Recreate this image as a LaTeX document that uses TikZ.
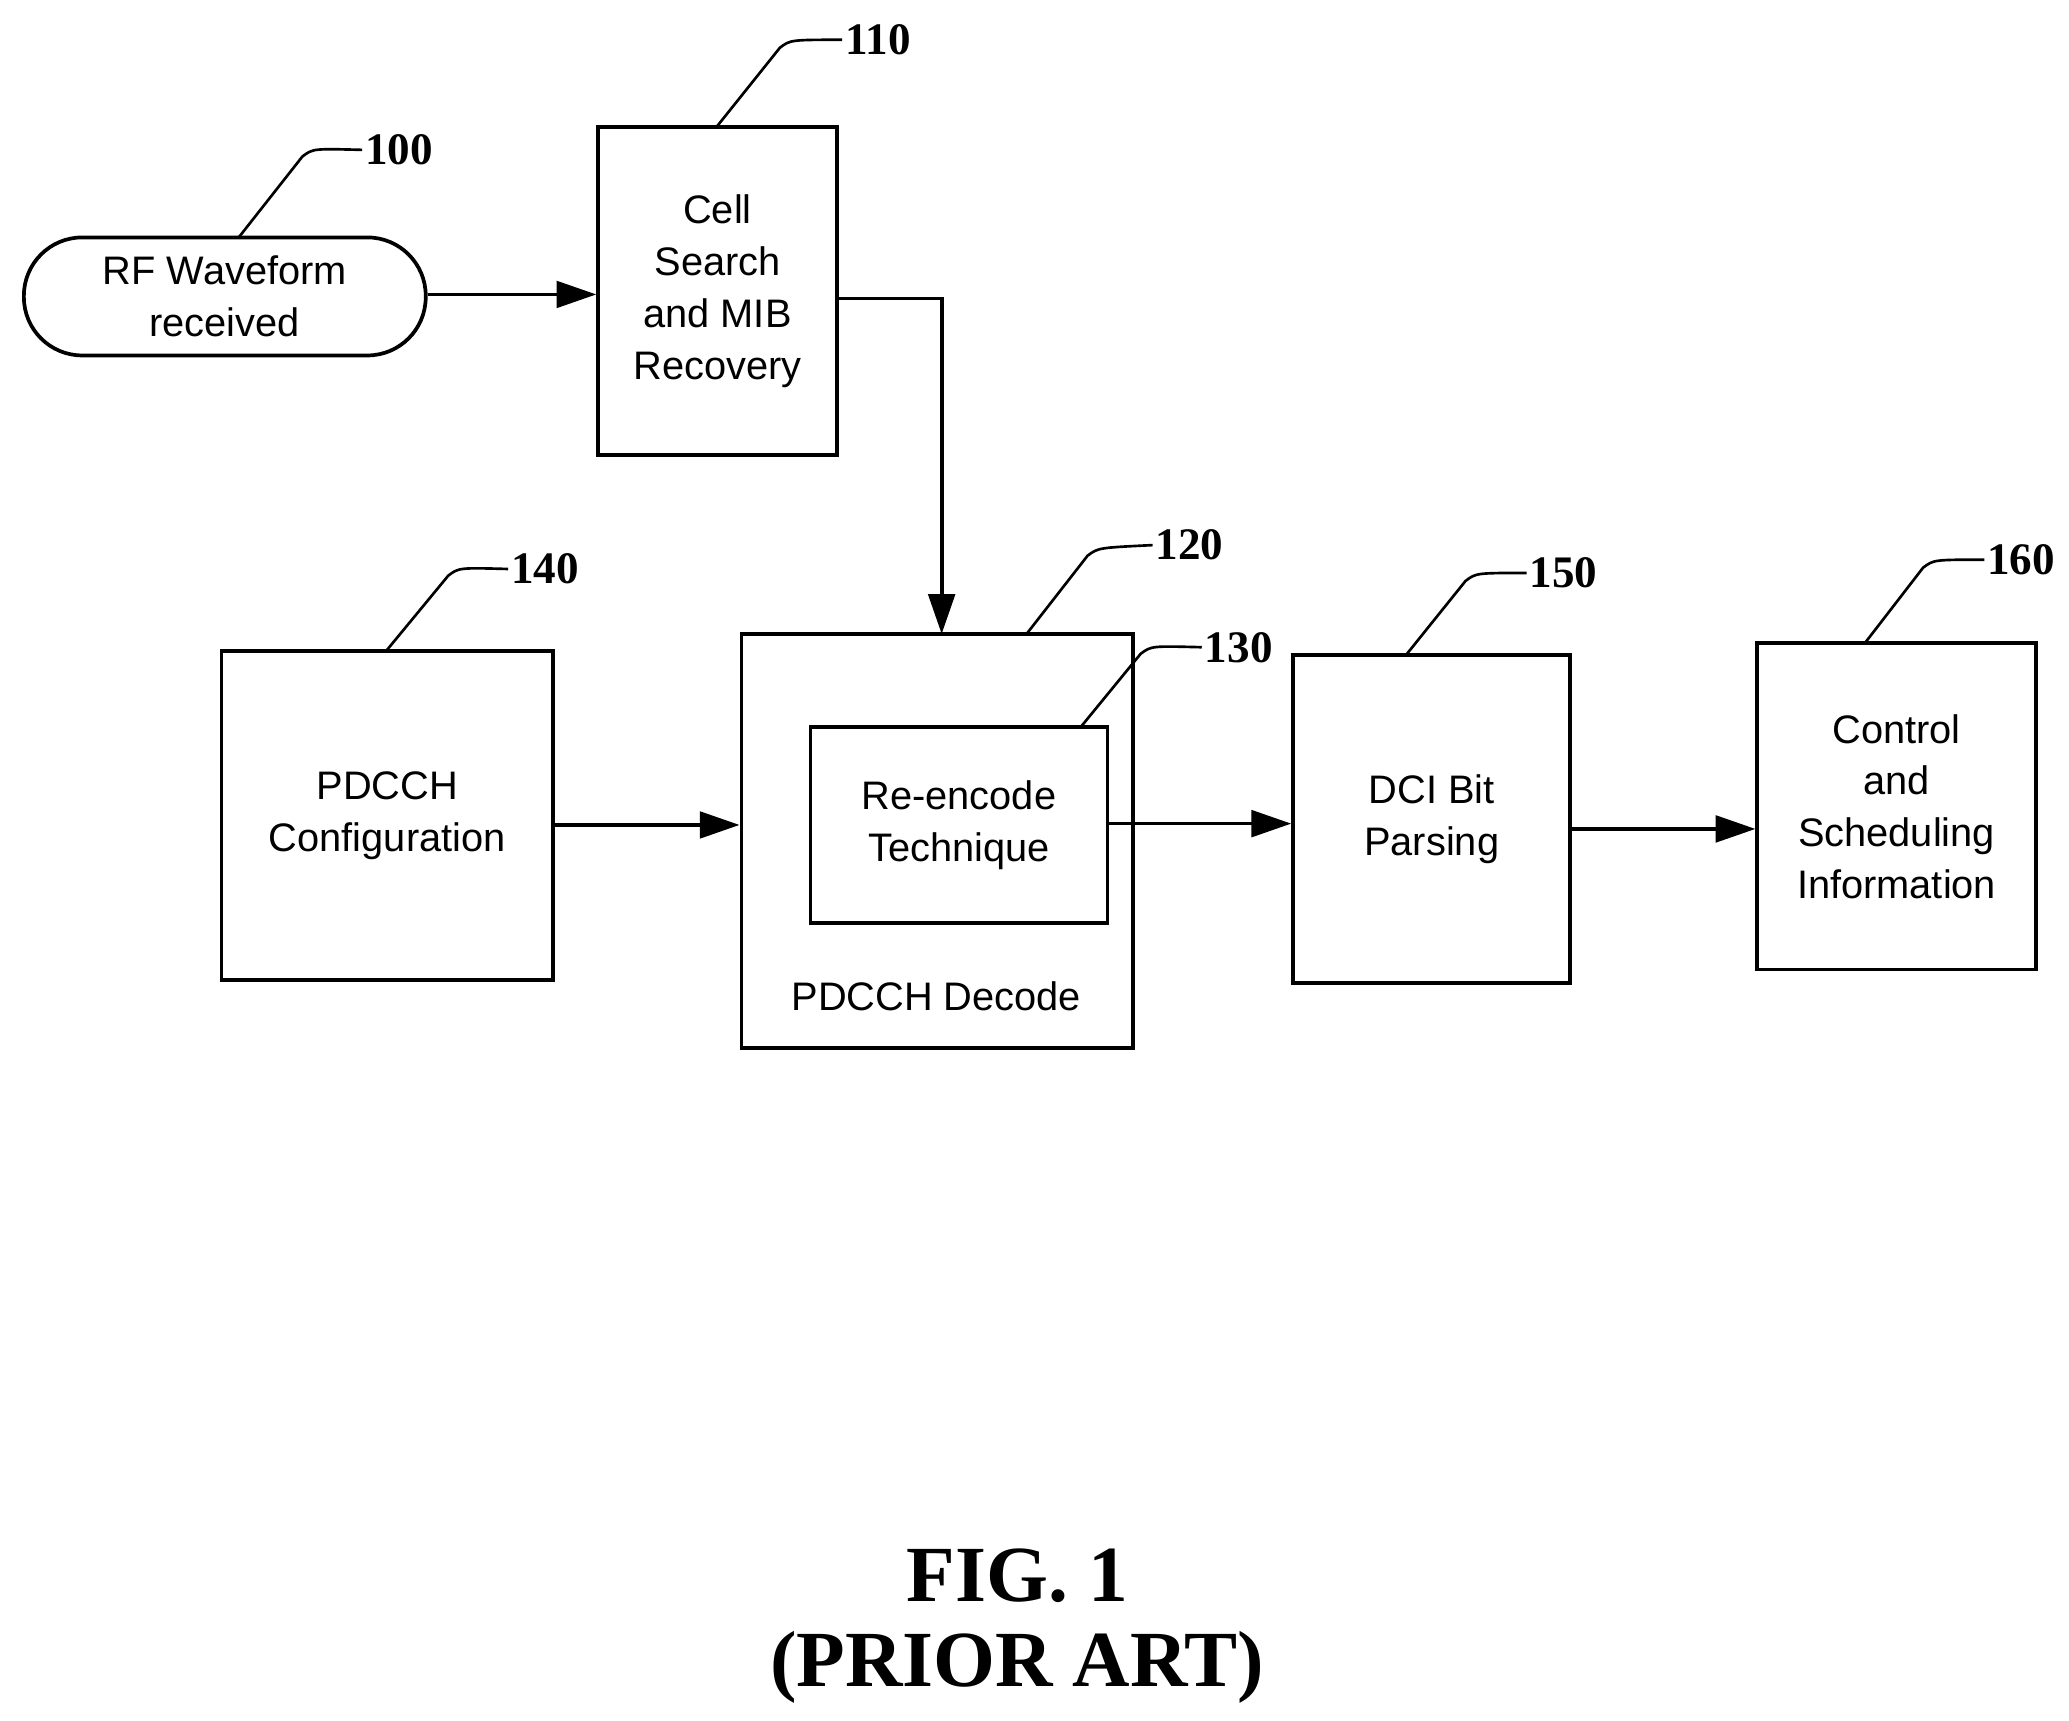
\documentclass[tikz,border=0pt]{standalone}
\usepackage{fontspec}
\setmainfont{Liberation Sans}
\newfontfamily\serifb{Liberation Serif}
\usetikzlibrary{arrows.meta}
\begin{document}
\begin{tikzpicture}[x=0.5pt,y=-0.5pt,
  box/.style={draw,line width=1.4pt,align=center,font=\fontsize{15}{19.5}\selectfont,inner sep=0pt},
  lab/.style={font=\serifb\bfseries\fontsize{17}{20}\selectfont,inner sep=1pt},
  arr/.style={line width=1.4pt,-{Triangle[length=15pt,width=10pt]}},
  lead/.style={line width=1pt}]
\useasboundingbox (0,0) rectangle (1560,1297);
\node[box,rounded corners=22pt,minimum width=151.5pt,minimum height=44.5pt] (rf) at (169.5,223.5) {RF Waveform\\received};
\node[box,minimum width=90pt,minimum height=123.5pt] (cell) at (541,219.5) {Cell\\Search\\and MIB\\Recovery};
\node[box,minimum width=147.5pt,minimum height=156pt] (dec) at (706.5,634) {};
\node[font=\fontsize{15}{19.5}\selectfont] (declab) at (706,751) {PDCCH Decode};
\node[box,minimum width=112pt,minimum height=74pt] (re) at (723,622) {Re-encode\\Technique};
\node[box,minimum width=125pt,minimum height=124pt] (cfg) at (292,615) {PDCCH\\Configuration};
\node[box,minimum width=104.5pt,minimum height=123.5pt] (dci) at (1079.5,617.5) {DCI Bit\\Parsing};
\node[box,minimum width=105pt,minimum height=123pt] (ctl) at (1430,608) {Control\\and\\Scheduling\\Information};
\node[lab] (l100) at (301,113) {100};
\node[lab] (l110) at (662,30) {110};
\node[lab] (l120) at (897,411) {120};
\node[lab] (l130) at (934,488) {130};
\node[lab] (l140) at (411,429) {140};
\node[lab] (l150) at (1179,432) {150};
\node[lab] (l160) at (1524,422) {160};
\node[font=\serifb\bfseries\fontsize{30}{34}\selectfont] (fig) at (767,1188) {FIG. 1};
\node[font=\serifb\bfseries\fontsize{30}{34}\selectfont] (pa) at (767,1257) {(PRIOR ART)};
\coordinate (c1) at (180,179);
\draw[lead] (c1) -- (228,118) .. controls (236,112) .. (l100.west);
\coordinate (c2) at (540,96);
\draw[lead] (c2) -- (588,36) .. controls (596,30) .. (l110.west);
\coordinate (c3) at (774,478);
\draw[lead] (c3) -- (820,419) .. controls (828,413) .. (l120.west);
\coordinate (c4) at (815,548);
\draw[lead] (c4) -- (860,493) .. controls (868,487) .. (l130.west);
\coordinate (c5) at (291,491);
\draw[lead] (c5) -- (338,434) .. controls (346,428) .. (l140.west);
\coordinate (c6) at (1060,494);
\draw[lead] (c6) -- (1105,438) .. controls (1113,432) .. (l150.west);
\coordinate (c7) at (1406,485);
\draw[lead] (c7) -- (1450,428) .. controls (1458,422) .. (l160.west);
\draw[arr] (rf.east |- 0,222) -- (cell.west |- 0,222);
\draw[arr] (cell.east |- 0,225) -- (710,225) -- (710,478);
\draw[arr] (cfg.east |- 0,622) -- (dec.west |- 0,622);
\draw[arr] (re.east |- 0,621) -- (dci.west |- 0,621);
\draw[arr] (dci.east |- 0,625) -- (ctl.west |- 0,625);
\end{tikzpicture}
\end{document}
